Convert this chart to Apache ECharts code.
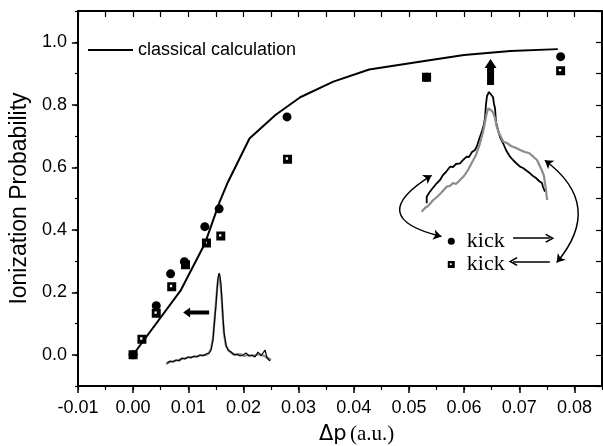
<!DOCTYPE html>
<html>
<head>
<meta charset="utf-8">
<script src="https://cdn.jsdelivr.net/npm/echarts@6/dist/echarts.min.js"></script>
<style>
html, body { margin: 0; padding: 0; background: #fff; }
#chart { width: 603px; height: 446px; }
</style>
</head>
<body>
<div id="chart"></div>
<script>
// axis ticks
var xTicks = [-0.01, 0.00, 0.01, 0.02, 0.03, 0.04, 0.05, 0.06, 0.07, 0.08];
var yTicks = [0.0, 0.2, 0.4, 0.6, 0.8, 1.0];

// classical calculation curve [dp, P]
var classicalCalc = [
	[0.0, 0.0], [0.0086, 0.205], [0.013, 0.355], [0.0157, 0.49], [0.0172, 0.553],
	[0.0211, 0.692], [0.0258, 0.767], [0.0303, 0.824], [0.0363, 0.874], [0.0428, 0.913],
	[0.054, 0.943], [0.06, 0.959], [0.0684, 0.972], [0.077, 0.978]
];
// measured points, kick -> (circles)
var kickForward = [
	[0.0, 0.0], [0.0042, 0.157], [0.0068, 0.259], [0.0093, 0.298], [0.013, 0.41],
	[0.0156, 0.467], [0.0279, 0.761], [0.0532, 0.888], [0.0775, 0.954]
];
// measured points, kick <- (squares)
var kickBackward = [
	[0.0, 0.0], [0.0016, 0.05], [0.0042, 0.133], [0.007, 0.218], [0.0095, 0.288],
	[0.0133, 0.358], [0.0159, 0.38], [0.028, 0.626], [0.0532, 0.888], [0.0775, 0.909]
];

// inset spectra (arbitrary units)
var inset1Black = [
	[1,2],[4,4],[7,3],[10,5],[13,4],[16,7],[19,6],[22,8],[25,7],[28,9],[31,8],[34,10],[37,9],
	[40,11],[43,12],[45,15],[47,25],[48,37],[49,49],[50,60],[51,75],[52,87],[53,92],[54,89],
	[55,80],[56,65],[57,47],[58,33],[60,20],[62,15],[65,13],[68,10],[71,11],[74,9],[77,10],
	[80,12],[83,9],[86,10],[89,8],[92,13],[95,9],[97,8],[99,15],[101,7],[104,4]
];
var inset1Gray = [
	[0,1],[4,3],[8,4],[12,5],[16,6],[20,7],[24,8],[28,8],[32,9],[36,10],[40,10],[43,12],
	[45,16],[47,27],[48,39],[49,51],[50,63],[51,75],[52,85],[53,89],[54,85],[55,75],[56,61],
	[57,45],[58,31],[60,19],[63,14],[66,12],[70,10],[74,11],[78,9],[82,10],[86,9],[90,10],
	[94,11],[98,9],[102,7],[105,5]
];
var inset2Black = [
	[6.7,11.7],[6.7,18.3],[9,22],[12,26],[16.7,31.7],[20,35],[23,40],[26,43],[30,48.3],[33,48],
	[36,51],[40,51.7],[43,55],[46.7,58.3],[49,58],[52,63],[55,65],[57,69],[60,78.3],[62,84],
	[64,91],[65,97],[66,111],[67,119],[69,123],[71,121],[73,118],[74,111],[75,107],[76,93],
	[78,85],[80,78],[83,72],[86,65],[90,58.3],[93,55],[96,52],[100,48.3],[103,47],[107,44],
	[110,41.7],[113,39],[116,37],[119,34],[122,32],[123,28],[125,23.3]
];
var inset2Gray = [
	[1.7,3.3],[5,7],[8,9],[13.3,15],[17,18],[21,22],[26.7,28.3],[30,29],[33,32],[36,31],
	[40,35],[44,39],[48,45],[53.3,55],[56,60],[60,71.7],[63,83],[65,93],[66.7,101.7],[68.3,106.7],
	[70,105],[72,104],[73.3,101.7],[75,97],[76.7,88.3],[79,82],[83.3,73.3],[87,72],[91,69],
	[96.7,66.7],[100,65],[105,63],[109,62],[113.3,58.3],[117,55],[121.7,45],[124,39],[125,31.7],
	[126,25],[126.7,18.3],[127.3,15]
];

// annotations, in data coordinates
var leftArrowPos = [[0.01143, 0.135]];
var upArrowPos = [[0.0648, 0.905]];
var kickCirclePos = [[0.05768, 0.3635]];
var kickSquarePos = [[0.05768, 0.2887]];
var curvedArrowsLeft = [[[0.05411, 0.5743], [0.05589, 0.3786]]];
var curvedArrowsRight = [[[0.07464, 0.6224], [0.07679, 0.2952]]];
var straightArrows = [
	[[0.06888, 0.3731], [0.07554, 0.3731]],
	[[0.07554, 0.2984], [0.06888, 0.2984]]
];

var squareSymbol = 'path://M0,0H10V10H0Z M3,3V5.6H5.6V3Z';
var chevron = 'path://M5,0L10,9L8.6,10L5,3.4L1.4,10L0,9Z';
var sansFont = 'Liberation Sans';
var serifFont = 'Liberation Serif';

var chart = echarts.init(document.getElementById('chart'));

var option = {
	backgroundColor: '#fff',
	animation: false,
	legend: {
		data: [{ name: 'classical calculation', icon: 'rect' }],
		left: 88,
		top: 41,
		padding: 0,
		itemWidth: 45,
		itemHeight: 2,
		itemGap: 9,
		textStyle: { fontFamily: sansFont, fontSize: 18, color: '#000' }
	},
	grid: [
		{ left: 71, top: 11, right: 1, bottom: 60 },
		{ left: 166, top: 265, width: 106, height: 100 },
		{ left: 420, top: 85, width: 130, height: 130 }
	],
	graphic: [{
		type: 'text',
		left: 319,
		top: 424,
		style: {
			text: '{a|Δp} {b|(a.u.)}',
			rich: {
				a: { fontFamily: 'DejaVu Sans', fontSize: 21, fill: '#000' },
				b: { fontFamily: serifFont, fontSize: 21, fill: '#000' }
			}
		}
	}],
	xAxis: [
		{
			type: 'value', gridIndex: 0, position: 'bottom',
			min: -0.01, max: 0.085, interval: 0.01,
			axisLine: { onZero: false, lineStyle: { color: '#000', width: 2 } },
			axisTick: { length: 7, lineStyle: { color: '#000', width: 1.5 }, customValues: xTicks },
			axisLabel: {
				customValues: xTicks, margin: 13, color: '#000', fontFamily: sansFont, fontSize: 18,
				formatter: function (v) { return v.toFixed(2); }
			},
			splitLine: { show: false }
		},
		{
			type: 'value', gridIndex: 0, position: 'bottom',
			min: -0.01, max: 0.085, interval: 0.005,
			axisLine: { show: false, onZero: false },
			axisTick: { length: 4, lineStyle: { color: '#000', width: 1.2 } },
			axisLabel: { show: false },
			splitLine: { show: false }
		},
		{
			type: 'value', gridIndex: 0, position: 'top',
			min: -0.01, max: 0.085, interval: 0.005,
			axisLine: { onZero: false, lineStyle: { color: '#000', width: 2 } },
			axisTick: { inside: true, length: 6, lineStyle: { color: '#000', width: 1.2 } },
			axisLabel: { show: false },
			splitLine: { show: false }
		},
		{ type: 'value', gridIndex: 1, min: 0, max: 106, show: false },
		{ type: 'value', gridIndex: 2, min: 0, max: 130, show: false }
	],
	yAxis: [
		{
			type: 'value', gridIndex: 0, position: 'left',
			min: -0.1, max: 1.1, interval: 0.1,
			name: 'Ionization Probability',
			nameLocation: 'middle',
			nameGap: 30,
			nameTextStyle: { fontFamily: sansFont, fontSize: 23, color: '#000' },
			axisLine: { onZero: false, lineStyle: { color: '#000', width: 2 } },
			axisTick: { length: 6, lineStyle: { color: '#000', width: 1.5 }, customValues: yTicks },
			axisLabel: {
				customValues: yTicks, margin: 11, color: '#000', fontFamily: sansFont, fontSize: 18,
				formatter: function (v) { return v.toFixed(1); }
			},
			splitLine: { show: false }
		},
		{
			type: 'value', gridIndex: 0, position: 'left',
			min: -0.1, max: 1.1, interval: 0.1,
			axisLine: { show: false, onZero: false },
			axisTick: { length: 3, lineStyle: { color: '#000', width: 1.2 } },
			axisLabel: { show: false },
			splitLine: { show: false }
		},
		{
			type: 'value', gridIndex: 0, position: 'right',
			min: -0.1, max: 1.1, interval: 0.1,
			axisLine: { onZero: false, lineStyle: { color: '#000', width: 2 } },
			axisTick: { inside: true, length: 6, lineStyle: { color: '#000', width: 1.2 } },
			axisLabel: { show: false },
			splitLine: { show: false }
		},
		{ type: 'value', gridIndex: 1, min: 0, max: 100, show: false },
		{ type: 'value', gridIndex: 2, min: 0, max: 130, show: false }
	],
	series: [
		{
			name: 'classical calculation', type: 'line', data: classicalCalc,
			xAxisIndex: 0, yAxisIndex: 0, symbol: 'none',
			lineStyle: { color: '#000', width: 2 }, itemStyle: { color: '#000' }
		},
		{
			name: 'kick forward', type: 'scatter', data: kickForward,
			xAxisIndex: 0, yAxisIndex: 0, symbol: 'circle', symbolSize: 9,
			itemStyle: { color: '#000', opacity: 1 }
		},
		{
			name: 'kick backward', type: 'scatter', data: kickBackward,
			xAxisIndex: 0, yAxisIndex: 0, symbol: squareSymbol, symbolSize: 9,
			itemStyle: { color: '#000', opacity: 1 }
		},
		{
			name: 'inset1 gray', type: 'line', data: inset1Gray,
			xAxisIndex: 3, yAxisIndex: 3, symbol: 'none',
			lineStyle: { color: '#8c8c8c', width: 2.2 }
		},
		{
			name: 'inset1 black', type: 'line', data: inset1Black,
			xAxisIndex: 3, yAxisIndex: 3, symbol: 'none',
			lineStyle: { color: '#000', width: 1.2 }
		},
		{
			name: 'inset2 black', type: 'line', data: inset2Black,
			xAxisIndex: 4, yAxisIndex: 4, symbol: 'none',
			lineStyle: { color: '#000', width: 1.8 }
		},
		{
			name: 'inset2 gray', type: 'line', data: inset2Gray,
			xAxisIndex: 4, yAxisIndex: 4, symbol: 'none',
			lineStyle: { color: '#8c8c8c', width: 2.2 }
		},
		{
			name: 'left arrow', type: 'scatter', data: leftArrowPos,
			xAxisIndex: 0, yAxisIndex: 0,
			symbol: 'path://M0,5L7,0L7,3L26,3L26,7L7,7L7,10Z', symbolSize: [26, 10],
			itemStyle: { color: '#000', opacity: 1 }
		},
		{
			name: 'up arrow', type: 'scatter', data: upArrowPos,
			xAxisIndex: 0, yAxisIndex: 0,
			symbol: 'path://M6,0L12,9L9.5,9L9.5,26L2.5,26L2.5,9L0,9Z', symbolSize: [12, 26],
			itemStyle: { color: '#000', opacity: 1 }
		},
		{
			name: 'kick label circle', type: 'scatter', data: kickCirclePos,
			xAxisIndex: 0, yAxisIndex: 0, symbol: 'circle', symbolSize: 7,
			itemStyle: { color: '#000', opacity: 1 },
			label: {
				show: true, position: 'right', distance: 12, formatter: 'kick',
				fontFamily: serifFont, fontSize: 22, color: '#000'
			}
		},
		{
			name: 'kick label square', type: 'scatter', data: kickSquarePos,
			xAxisIndex: 0, yAxisIndex: 0, symbol: squareSymbol, symbolSize: 7,
			itemStyle: { color: '#000', opacity: 1 },
			label: {
				show: true, position: 'right', distance: 12, formatter: 'kick',
				fontFamily: serifFont, fontSize: 22, color: '#000'
			}
		},
		{
			name: 'curve left', type: 'lines', coordinateSystem: 'cartesian2d',
			xAxisIndex: 0, yAxisIndex: 0,
			data: curvedArrowsLeft.map(function (c) { return { coords: c }; }),
			symbol: ['arrow', 'arrow'], symbolSize: 8,
			lineStyle: { color: '#000', width: 1.5, opacity: 1, curveness: -1.2 }
		},
		{
			name: 'curve right', type: 'lines', coordinateSystem: 'cartesian2d',
			xAxisIndex: 0, yAxisIndex: 0,
			data: curvedArrowsRight.map(function (c) { return { coords: c }; }),
			symbol: ['arrow', 'arrow'], symbolSize: 8,
			lineStyle: { color: '#000', width: 1.5, opacity: 1, curveness: 0.53 }
		},
		{
			name: 'straight arrows', type: 'lines', coordinateSystem: 'cartesian2d',
			xAxisIndex: 0, yAxisIndex: 0,
			data: straightArrows.map(function (c) { return { coords: c }; }),
			symbol: ['none', chevron], symbolSize: [10, 9],
			lineStyle: { color: '#000', width: 1.5, opacity: 1, curveness: 0 }
		}
	]
};

chart.setOption(option);
</script>
</body>
</html>
